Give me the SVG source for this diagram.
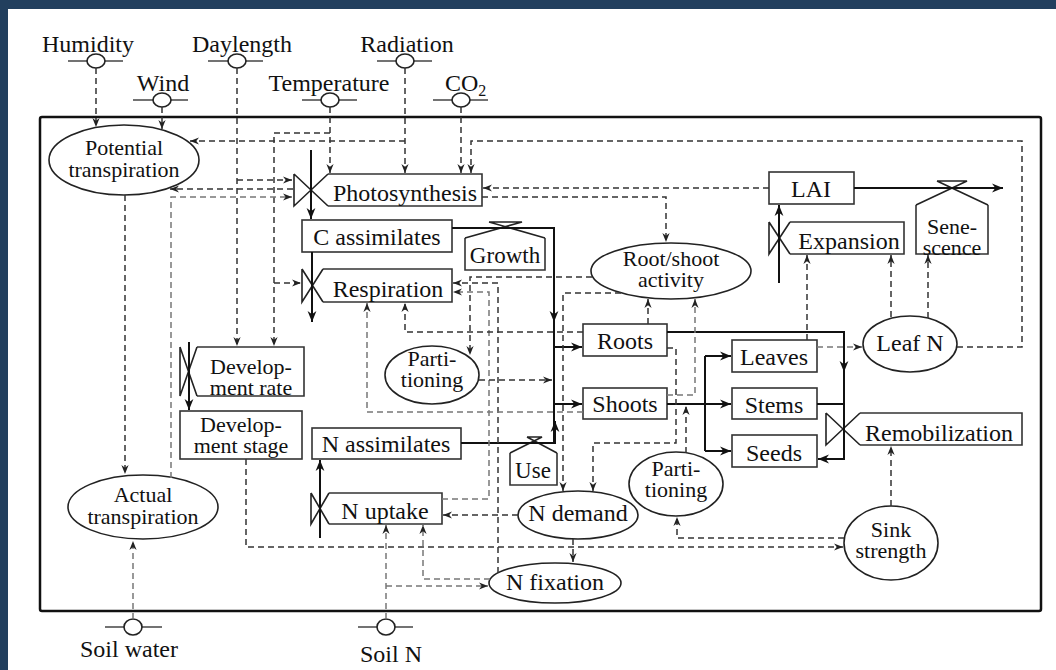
<svg xmlns="http://www.w3.org/2000/svg" width="1056" height="670" viewBox="0 0 1056 670">
<defs>
<style>
.t{font-family:"Liberation Serif","Times New Roman",serif;font-size:24px;fill:#111;text-anchor:middle}
.m{font-size:22px}
.b{fill:#fff;stroke:#333;stroke-width:1.6}
.v{fill:none;stroke:#222;stroke-width:1.6}
.e{fill:#fff;stroke:#222;stroke-width:1.6}
.d{fill:none;stroke:#333;stroke-width:1.5;stroke-dasharray:6 4}
.g{stroke:#777}
.f{fill:none;stroke:#111;stroke-width:2}
.sl{stroke:#444;stroke-width:1.6}
.sc{fill:#fff;stroke:#222;stroke-width:1.6}
</style>
<marker id="a" viewBox="0 0 10 10" refX="10" refY="5" markerWidth="9" markerHeight="9" markerUnits="userSpaceOnUse" orient="auto"><path d="M0,1 L10,5 L0,9 L3,5 Z" fill="#222"/></marker>
<marker id="s" viewBox="0 0 10 10" refX="10" refY="5" markerWidth="11" markerHeight="11" markerUnits="userSpaceOnUse" orient="auto"><path d="M0,1 L10,5 L0,9 L3,5 Z" fill="#111"/></marker>
</defs>
<rect width="1056" height="670" fill="#fff"/>
<rect x="0" y="0" width="1056" height="9" fill="#223f5e"/>
<rect x="0" y="0" width="8" height="670" fill="#223f5e"/>
<rect x="40" y="117" width="1001" height="494" rx="2" fill="none" stroke="#111" stroke-width="2.5"/>

<g id="nodes">
<g id="src-humidity"><text class="t" x="88" y="52">Humidity</text><line class="sl" x1="68" y1="61" x2="123" y2="61"/><ellipse class="sc" cx="96" cy="61" rx="9" ry="7"/></g>
<g id="src-daylength"><text class="t" x="242" y="52">Daylength</text><line class="sl" x1="208" y1="61" x2="263" y2="61"/><ellipse class="sc" cx="237" cy="61" rx="9" ry="7"/></g>
<g id="src-radiation"><text class="t" x="407" y="52">Radiation</text><line class="sl" x1="377" y1="61" x2="432" y2="61"/><ellipse class="sc" cx="405" cy="61" rx="9" ry="7"/></g>
<g id="src-wind"><text class="t" x="163" y="91">Wind</text><line class="sl" x1="133" y1="100" x2="188" y2="100"/><ellipse class="sc" cx="162" cy="100" rx="9" ry="7"/></g>
<g id="src-temperature"><text class="t" x="329" y="91">Temperature</text><line class="sl" x1="302" y1="100" x2="357" y2="100"/><ellipse class="sc" cx="330" cy="100" rx="9" ry="7"/></g>
<g id="src-co2"><text class="t" x="445" y="91" style="text-anchor:start">CO<tspan font-size="16" dy="5">2</tspan></text><line class="sl" x1="433" y1="100" x2="488" y2="100"/><ellipse class="sc" cx="461" cy="100" rx="9" ry="7"/></g>
<g id="src-soilwater"><text class="t" x="129" y="657">Soil water</text><line class="sl" x1="105" y1="627" x2="162" y2="627"/><ellipse class="sc" cx="133" cy="627" rx="9" ry="8"/></g>
<g id="src-soiln"><text class="t" x="391" y="662">Soil N</text><line class="sl" x1="358" y1="627" x2="413" y2="627"/><ellipse class="sc" cx="386" cy="627" rx="9" ry="8"/></g>

<g id="potential-transpiration"><ellipse class="e" cx="124" cy="160" rx="75" ry="35"/><text class="t m" x="124" y="155">Potential</text><text class="t m" x="124" y="177">transpiration</text></g>
<g id="actual-transpiration"><ellipse class="e" cx="143" cy="507" rx="75" ry="32"/><text class="t m" x="143" y="502">Actual</text><text class="t m" x="143" y="524">transpiration</text></g>

<g id="photosynthesis"><path class="b" d="M328,174 H482 V206 H328"/><path class="v" d="M294,174 V206 L328,174 M294,174 L328,206"/><text class="t" x="405" y="201">Photosynthesis</text></g>
<g id="c-assimilates"><rect class="b" x="302" y="220" width="150" height="32"/><text class="t" x="377" y="245">C assimilates</text></g>
<g id="respiration"><path class="b" d="M323,269 H452 V302 H323"/><path class="v" d="M302,269 V302 L323,269 M302,269 L323,302"/><text class="t" x="388" y="297">Respiration</text></g>
<g id="growth"><path class="b" d="M465,238 V270 H545 V238"/><path class="v" d="M489,222 H522 L465,238 M489,222 L545,238"/><text class="t" x="505" y="263" style="font-size:23px">Growth</text></g>
<g id="development-rate"><path class="b" d="M197,347 H304 V396 H197"/><path class="v" d="M180,347 V396 L197,347 M180,347 L197,396"/><text class="t m" x="251" y="374">Develop-</text><text class="t m" x="251" y="395">ment rate</text></g>
<g id="development-stage"><rect class="b" x="180" y="411" width="122" height="48"/><text class="t m" x="241" y="432">Develop-</text><text class="t m" x="241" y="453">ment stage</text></g>
<g id="n-assimilates"><rect class="b" x="312" y="428" width="149" height="31"/><text class="t" x="386" y="452">N assimilates</text></g>
<g id="use"><path class="b" d="M510,453 V485 H557 V453"/><path class="v" d="M527,437 H542 L510,453 M527,437 L557,453"/><text class="t" x="533" y="478" style="font-size:23px">Use</text></g>
<g id="n-uptake"><path class="b" d="M329,493 H442 V524 H329"/><path class="v" d="M311,493 V524 L329,493 M311,493 L329,524"/><text class="t" x="385" y="519">N uptake</text></g>
<g id="partitioning-1"><ellipse class="e" cx="432" cy="375" rx="47" ry="29"/><text class="t m" x="432" y="366">Parti-</text><text class="t m" x="432" y="387">tioning</text></g>
<g id="root-shoot-activity"><ellipse class="e" cx="671" cy="271" rx="80" ry="28"/><text class="t m" x="671" y="266">Root/shoot</text><text class="t m" x="671" y="287">activity</text></g>
<g id="roots"><rect class="b" x="583" y="324" width="84" height="32"/><text class="t" x="625" y="349">Roots</text></g>
<g id="shoots"><rect class="b" x="583" y="388" width="84" height="31"/><text class="t" x="625" y="412">Shoots</text></g>
<g id="leaves"><rect class="b" x="732" y="340" width="85" height="32"/><text class="t" x="774" y="365">Leaves</text></g>
<g id="stems"><rect class="b" x="732" y="388" width="85" height="31"/><text class="t" x="774" y="413">Stems</text></g>
<g id="seeds"><rect class="b" x="732" y="435" width="85" height="32"/><text class="t" x="774" y="461">Seeds</text></g>
<g id="lai"><rect class="b" x="769" y="172" width="85" height="32"/><text class="t" x="811" y="197">LAI</text></g>
<g id="expansion"><path class="b" d="M790,222 H904 V254 H790"/><path class="v" d="M769,222 V254 L790,222 M769,222 L790,254"/><text class="t" x="849" y="249">Expansion</text></g>
<g id="senescence"><path class="b" d="M916,205 V254 H988 V205"/><path class="v" d="M937,181 H967 L916,205 M937,181 L988,205"/><text class="t m" x="952" y="234">Sene-</text><text class="t m" x="952" y="255">scence</text></g>
<g id="leaf-n"><ellipse class="e" cx="910" cy="344" rx="47" ry="28"/><text class="t" x="910" y="351">Leaf N</text></g>
<g id="remobilization"><path class="b" d="M860,413 H1022 V445 H860"/><path class="v" d="M826,413 V445 L860,413 M826,413 L860,445"/><text class="t" x="939" y="441">Remobilization</text></g>
<g id="partitioning-2"><ellipse class="e" cx="676" cy="484" rx="47" ry="32"/><text class="t m" x="676" y="476">Parti-</text><text class="t m" x="676" y="497">tioning</text></g>
<g id="n-demand"><ellipse class="e" cx="578" cy="515" rx="60" ry="24"/><text class="t" x="578" y="521">N demand</text></g>
<g id="n-fixation"><ellipse class="e" cx="555" cy="583" rx="66" ry="20"/><text class="t" x="555" y="590">N fixation</text></g>
<g id="sink-strength"><ellipse class="e" cx="891" cy="543" rx="47" ry="37"/><text class="t m" x="891" y="537">Sink</text><text class="t m" x="891" y="558">strength</text></g>
</g>

<g id="connectors">
<g class="f">
<path d="M311,150 V219" marker-end="url(#s)"/>
<path d="M312,252 V322" marker-end="url(#s)"/>
<path d="M452,228 H554 V322" marker-end="url(#s)"/>
<path d="M554,318 V443"/>
<path d="M554,347 H582" marker-end="url(#s)"/>
<path d="M554,404 H582" marker-end="url(#s)"/>
<path d="M461,443 H555 V421" marker-end="url(#s)"/>
<path d="M189,342 V410" marker-end="url(#s)"/>
<path d="M320,538 V460" marker-end="url(#s)"/>
<path d="M779,283 V205" marker-end="url(#s)"/>
<path d="M854,188 H1003" marker-end="url(#s)"/>
<path d="M667,404 H731" marker-end="url(#s)"/>
<path d="M705,356 V451"/>
<path d="M705,356 H731" marker-end="url(#s)"/>
<path d="M705,451 H731" marker-end="url(#s)"/>
<path d="M667,332 H844 V459 H818" marker-end="url(#s)"/>
<path d="M844,332 V372" marker-end="url(#s)"/>
<path d="M817,404 H844"/>
</g>
<g class="d">
<path d="M96,68 V127" marker-end="url(#a)"/>
<path d="M162,107 V129" marker-end="url(#a)"/>
<path d="M237,68 V346" marker-end="url(#a)"/>
<path d="M237,180 H292" marker-end="url(#a)"/>
<path d="M330,107 V173" marker-end="url(#a)"/>
<path d="M330,133 H274 V346" marker-end="url(#a)"/>
<path d="M274,283 H301" marker-end="url(#a)"/>
<path d="M405,68 V173" marker-end="url(#a)"/>
<path d="M405,141 H190" marker-end="url(#a)"/>
<path d="M461,107 V173" marker-end="url(#a)"/>
<path d="M957,347 H1022 V141 H471 V173" marker-end="url(#a)"/>
<path d="M769,188 H483" marker-end="url(#a)"/>
<path d="M482,197 H666 V242" marker-end="url(#a)"/>
<path d="M293,189 H170" marker-end="url(#a)"/>
<path class="g" d="M171,478 V197 H292" marker-end="url(#a)"/>
<path d="M125,195 V474" marker-end="url(#a)"/>
<path class="g" d="M133,619 V541" marker-end="url(#a)"/>
<path d="M592,277 H470 V355" marker-end="url(#a)"/>
<path d="M498,573 V283 H453" marker-end="url(#a)"/>
<path class="g" d="M442,499 H489 V292 H453" marker-end="url(#a)"/>
<path d="M583,332 H405 V303" marker-end="url(#a)"/>
<path class="g" d="M583,412 H367 V303" marker-end="url(#a)"/>
<path d="M479,380 H552" marker-end="url(#a)"/>
<path d="M648,324 V299" marker-end="url(#a)"/>
<path class="g" d="M667,395 H695 V299" marker-end="url(#a)"/>
<path d="M621,293 H563 V491" marker-end="url(#a)"/>
<path d="M667,348 H676 V443 H593 V491" marker-end="url(#a)"/>
<path d="M686,453 V406" marker-end="url(#a)"/>
<path d="M844,538 H677 V517" marker-end="url(#a)"/>
<path d="M246,459 V547 H843" marker-end="url(#a)"/>
<path d="M573,539 V562" marker-end="url(#a)"/>
<path d="M518,515 H443" marker-end="url(#a)"/>
<path class="g" d="M386,619 V525" marker-end="url(#a)"/>
<path class="g" d="M386,586 H488" marker-end="url(#a)"/>
<path class="g" d="M490,579 H423 V525" marker-end="url(#a)"/>
<path class="g" d="M817,347 H862" marker-end="url(#a)"/>
<path d="M807,340 V255" marker-end="url(#a)"/>
<path d="M891,317 V255" marker-end="url(#a)"/>
<path d="M928,318 V255" marker-end="url(#a)"/>
<path d="M891,506 V446" marker-end="url(#a)"/>
</g>
</g>
</svg>
